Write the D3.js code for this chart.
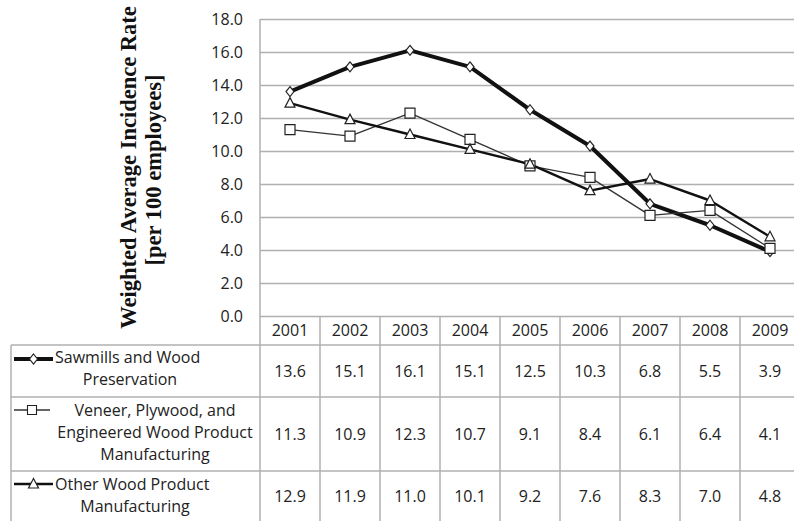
<!DOCTYPE html>
<html>
<head>
<meta charset="utf-8">
<script src="https://cdn.jsdelivr.net/npm/d3@7/dist/d3.min.js"></script>
<style>
  html, body { margin: 0; padding: 0; background: #fff; }
  svg { display: block; }
</style>
</head>
<body>
<script>
// Injury incidence rates in wood products manufacturing, 2001–2009
const years = ["2001", "2002", "2003", "2004", "2005", "2006", "2007", "2008", "2009"];
const sawmills = [13.6, 15.1, 16.1, 15.1, 12.5, 10.3, 6.8, 5.5, 3.9];
const veneer = [11.3, 10.9, 12.3, 10.7, 9.1, 8.4, 6.1, 6.4, 4.1];
const otherWood = [12.9, 11.9, 11.0, 10.1, 9.2, 7.6, 8.3, 7.0, 4.8];
const seriesLabels = [
  ["Sawmills and Wood", "Preservation"],
  ["Veneer, Plywood, and", "Engineered Wood Product", "Manufacturing"],
  ["Other Wood Product", "Manufacturing"]
];
const yTicks = [0, 2, 4, 6, 8, 10, 12, 14, 16, 18];
const yTitle = ["Weighted Average Incidence Rate", "[per 100 employees]"];

const W = 794, H = 521;
const plotLeft = 260, plotTop = 19, plotBottom = 316, colW = 60;
const gridColor = "#b0b0b0";
const textColor = "#222";
const bodyFont = "'Open Sans', 'Noto Sans', sans-serif";

const svg = d3.select("body").append("svg")
  .attr("width", W).attr("height", H);

const x = d3.scaleBand().domain(years)
  .range([plotLeft, plotLeft + colW * years.length]).padding(0);
const y = d3.scaleLinear().domain([0, 18]).range([plotBottom, plotTop]);
const cx = d => x(d) + x.bandwidth() / 2;

// Horizontal gridlines
const grid = svg.append("g")
  .attr("transform", `translate(${plotLeft},0)`)
  .call(d3.axisLeft(y).tickValues(yTicks).tickSize(-(W - plotLeft + 20)).tickFormat(""));
grid.select(".domain").remove();
grid.selectAll(".tick line").attr("stroke", gridColor).attr("stroke-width", 1.5);

// Y tick labels
const yAxis = svg.append("g")
  .attr("transform", `translate(${plotLeft},0)`)
  .call(d3.axisLeft(y).tickValues(yTicks).tickSize(0).tickPadding(17)
    .tickFormat(d3.format(".1f")));
yAxis.select(".domain").remove();
yAxis.selectAll("text")
  .attr("font-family", bodyFont).attr("font-size", 16).attr("fill", textColor);

// Y axis title (two lines, rotated)
const titleX = [136, 161];
yTitle.forEach((t, i) => {
  svg.append("text")
    .attr("transform", `translate(${titleX[i]},${i === 0 ? 167.5 : 170}) rotate(-90)`)
    .attr("text-anchor", "middle")
    .attr("font-family", "'Liberation Serif', 'Times New Roman', serif")
    .attr("font-weight", "bold").attr("font-size", 22.5).attr("fill", "#111")
    .text(t);
});

// Data table grid
const rowEdges = [316, 345, 397, 471, 524];
const tableLeft = 11;
const tg = svg.append("g").attr("stroke", gridColor).attr("stroke-width", 1.5);
// vertical axis line continuing through the table
tg.append("line").attr("x1", plotLeft).attr("x2", plotLeft)
  .attr("y1", plotTop).attr("y2", H);
// column borders
years.forEach(yr => {
  const xr = x(yr) + x.bandwidth();
  tg.append("line").attr("x1", xr).attr("x2", xr)
    .attr("y1", rowEdges[0]).attr("y2", H);
});
// row borders
rowEdges.slice(1).forEach(ry => {
  tg.append("line").attr("x1", tableLeft).attr("x2", W)
    .attr("y1", ry).attr("y2", ry);
});
tg.append("line").attr("x1", tableLeft).attr("x2", tableLeft)
  .attr("y1", rowEdges[1]).attr("y2", H);

// Header years
svg.append("g").selectAll("text").data(years).join("text")
  .attr("x", d => cx(d)).attr("y", (rowEdges[0] + rowEdges[1]) / 2)
  .attr("dy", "0.36em").attr("text-anchor", "middle")
  .attr("font-family", bodyFont).attr("font-size", 16).attr("fill", textColor)
  .text(d => d);

// Series definitions
const series = [
  { values: sawmills, width: 4, color: "#111", marker: "diamond" },
  { values: veneer, width: 1.3, color: "#333", marker: "square" },
  { values: otherWood, width: 2.4, color: "#111", marker: "triangle" }
];

const markerPath = {
  diamond: "M0,-5L4,0L0,5L-4,0Z",
  square: "M-5,-5H5V5H-5Z",
  triangle: "M0,-5.5L5,4H-5Z"
};

// Table values
series.forEach((s, i) => {
  const rc = (rowEdges[i + 1] + rowEdges[i + 2]) / 2 + (i === 2 ? -1.5 : 0);
  svg.append("g").selectAll("text").data(s.values).join("text")
    .attr("x", (d, j) => cx(years[j])).attr("y", rc)
    .attr("dy", "0.36em").attr("text-anchor", "middle")
    .attr("font-family", bodyFont).attr("font-size", 16).attr("fill", textColor)
    .text(d => d3.format(".1f")(d));
});

// Legend labels in the table's first column
const labelLines = [
  { cx: 130, ys: [363, 385] },
  { cx: 155, ys: [416, 438, 459.5] },
  { cx: 135, ys: [490, 511.5] }
];
seriesLabels.forEach((lines, i) => {
  lines.forEach((t, k) => {
    let anchorX = labelLines[i].cx;
    let anchor = "middle";
    if (i !== 1 && k === 0) { anchorX = 55; anchor = "start"; }
    svg.append("text")
      .attr("x", anchorX).attr("y", labelLines[i].ys[k])
      .attr("text-anchor", anchor)
      .attr("font-family", bodyFont).attr("font-size", 16).attr("fill", textColor)
      .text(t);
  });
});

// Legend keys
const keyY = [359, 410, 484];
const keyX2 = [53, 50, 53];
series.forEach((s, i) => {
  svg.append("line").attr("x1", 14).attr("x2", keyX2[i])
    .attr("y1", keyY[i]).attr("y2", keyY[i])
    .attr("stroke", s.color).attr("stroke-width", s.width);
  svg.append("path").attr("d", markerPath[s.marker])
    .attr("transform", `translate(${(14 + keyX2[i]) / 2},${keyY[i]})${s.marker === "square" ? " scale(0.9)" : ""}`)
    .attr("fill", "#fff").attr("stroke", "#222").attr("stroke-width", 1.2);
});

// Lines and markers
const line = d3.line().x((d, j) => cx(years[j])).y(d => y(d));
series.forEach(s => {
  svg.append("path").datum(s.values)
    .attr("d", line).attr("fill", "none")
    .attr("stroke", s.color).attr("stroke-width", s.width)
    .attr("stroke-linejoin", "round");
});
series.forEach(s => {
  svg.append("g").selectAll("path").data(s.values).join("path")
    .attr("d", markerPath[s.marker])
    .attr("transform", (d, j) => `translate(${cx(years[j])},${y(d)})`)
    .attr("fill", "#fff").attr("stroke", "#222").attr("stroke-width", 1.2);
});
</script>
</body>
</html>
